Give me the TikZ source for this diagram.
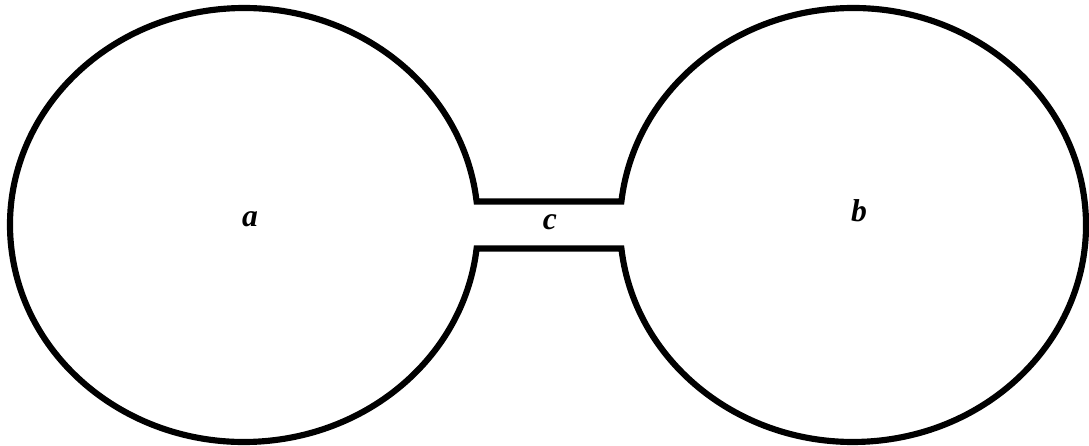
\documentclass[tikz,border=0pt]{standalone}
\usepackage{fontspec}
\setmainfont{Liberation Serif}
\usepackage{tikz}
\tikzset{
    bulb wall/.style = {draw, line width = 3.5pt, miter limit = 4},
    region label/.style = {anchor = base, inner sep = 0pt,
        font = \fontsize{18}{20}\selectfont\bfseries\itshape},
}

\begin{document}
\begin{tikzpicture}[x = 0.02cm, y = 0.02cm]
                \useasboundingbox (0, 0) rectangle (1089, 446);

                % the two bulbs and the neck between them
                \draw[bulb wall] (476.6, 244.5)
                    arc[start angle = 6.22, end angle = 353.78, x radius = 234, y radius = 217]
                    -- (621.4, 197.5)
                    arc[start angle = 186.22, end angle = 533.78, x radius = 233, y radius = 217]
                    -- cycle;

                \node[region label] (a) at (250, 219) {a};
                \node[region label] (b) at (859, 224) {b};
                \node[region label] (c) at (550, 216) {c};
            \end{tikzpicture}
\end{document}
